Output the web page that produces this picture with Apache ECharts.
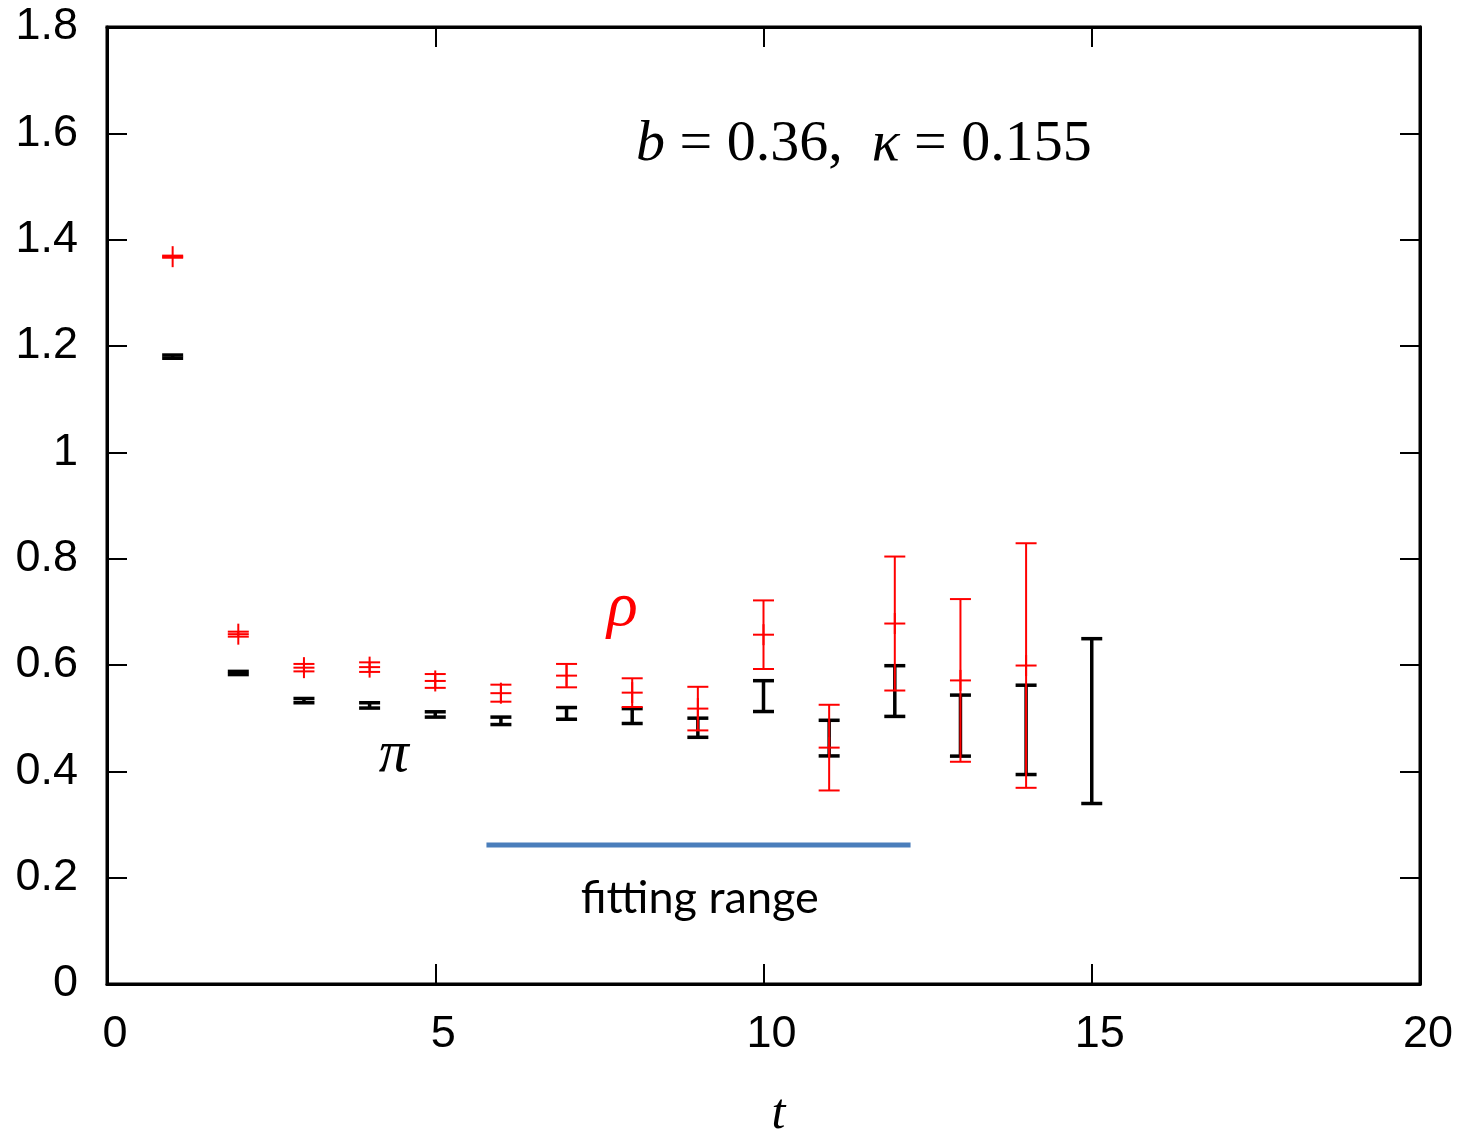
<!DOCTYPE html>
<html>
<head>
<meta charset="utf-8">
<script src="https://cdn.jsdelivr.net/npm/echarts@6/dist/echarts.min.js"></script>
<style>
html,body{margin:0;padding:0;background:#fff;}
#chart{width:1464px;height:1133px;}
</style>
</head>
<body>
<div id="chart"></div>
<script>
// ---- data ----
const tPi = [1, 2, 3, 4, 5, 6, 7, 8, 9, 10, 11, 12, 13, 14, 15];
const piMean = [1.180, 0.585, 0.533, 0.524, 0.507, 0.495, 0.509, 0.504, 0.482, 0.5415, 0.4625, 0.551, 0.486, 0.478, 0.4945];
const piErr = [0.003, 0.003, 0.004, 0.005, 0.005, 0.007, 0.011, 0.014, 0.018, 0.029, 0.0335, 0.0477, 0.0574, 0.084, 0.155];

const tRho = [1, 2, 3, 4, 5, 6, 7, 8, 9, 10, 11, 12, 13, 14];
const rhoMean = [1.368, 0.658, 0.595, 0.596, 0.570, 0.547, 0.580, 0.548, 0.518, 0.657, 0.4446, 0.678, 0.571, 0.599];
const rhoErr = [0.002, 0.0047, 0.007, 0.009, 0.013, 0.016, 0.022, 0.027, 0.041, 0.0645, 0.0806, 0.126, 0.153, 0.230];

const fitRangeT = [5.78, 12.24];
const fitRangeY = 0.2615;

const xTicks = [0, 5, 10, 15, 20];
const yTicks = [0, 0.2, 0.4, 0.6, 0.8, 1, 1.2, 1.4, 1.6, 1.8];

// annotation anchors (data coordinates)
const annEq = [11.53, 1.578];
const annRho = [7.85, 0.707];
const annPi = [4.37, 0.431];
const annFit = [9.03, 0.160];

// ---- chart ----
const chart = echarts.init(document.getElementById('chart'), null, {renderer: 'canvas'});

function errRender(color, lw, cross) {
  return function (params, api) {
    const t = api.value(0), m = api.value(1), e = api.value(2);
    const top = api.coord([t, m + e]);
    const bot = api.coord([t, m - e]);
    const mid = api.coord([t, m]);
    const hw = 10.5;
    const st = {stroke: color, lineWidth: lw, fill: null};
    const children = [
      {type: 'line', shape: {x1: top[0], y1: top[1], x2: bot[0], y2: bot[1]}, style: st},
      {type: 'line', shape: {x1: top[0] - hw, y1: top[1], x2: top[0] + hw, y2: top[1]}, style: st},
      {type: 'line', shape: {x1: bot[0] - hw, y1: bot[1], x2: bot[0] + hw, y2: bot[1]}, style: st}
    ];
    if (cross) {
      children.push({type: 'line', shape: {x1: mid[0] - hw, y1: mid[1], x2: mid[0] + hw, y2: mid[1]}, style: st});
      children.push({type: 'line', shape: {x1: mid[0], y1: mid[1] - hw, x2: mid[0], y2: mid[1] + hw}, style: st});
    }
    return {type: 'group', children: children};
  };
}

const piData = tPi.map((t, i) => [t, piMean[i], piErr[i]]);
const rhoData = tRho.map((t, i) => [t, rhoMean[i], rhoErr[i]]);

const axisFont = 'Liberation Sans, Arial, sans-serif';
const serif = 'Liberation Serif, Times New Roman, serif';

function annot(pos, text, labelStyle) {
  return {
    type: 'scatter', xAxisIndex: 0, yAxisIndex: 0,
    symbolSize: 1, itemStyle: {color: 'rgba(0,0,0,0)', opacity: 1},
    silent: true, z: 20,
    data: [pos],
    label: Object.assign({show: true, position: 'inside', formatter: text, textBorderWidth: 0, textShadowBlur: 0, opacity: 1}, labelStyle)
  };
}

const option = {
  animation: false,
  backgroundColor: '#fff',
  grid: {left: 107, right: 44, top: 27, bottom: 149, show: true, borderColor: '#000', borderWidth: 3,
    containLabel: false, outerBoundsMode: 'none'},
  xAxis: [
    {
      type: 'value', min: 0, max: 20, interval: 5, position: 'bottom',
      axisLine: {show: true, onZero: false, lineStyle: {color: '#000', width: 3}},
      axisTick: {show: true, inside: true, length: 20, lineStyle: {color: '#000', width: 2}},
      axisLabel: {show: true, margin: 28, color: '#000', fontFamily: axisFont, fontSize: 45, padding: [0, 0, 0, 16],
        formatter: v => xTicks.includes(v) ? String(v) : ''},
      splitLine: {show: false},
      name: 't', nameLocation: 'middle', nameGap: 106,
      nameTextStyle: {fontFamily: serif, fontStyle: 'italic', fontSize: 50, color: '#000', padding: [0, 0, 0, 30]}
    },
    {
      type: 'value', min: 0, max: 20, interval: 5, position: 'top',
      axisLine: {show: true, onZero: false, lineStyle: {color: '#000', width: 3}},
      axisTick: {show: true, inside: true, length: 20, lineStyle: {color: '#000', width: 2}},
      axisLabel: {show: false}, splitLine: {show: false}
    }
  ],
  yAxis: [
    {
      type: 'value', min: 0, max: 1.8, interval: 0.2, position: 'left',
      axisLine: {show: true, onZero: false, lineStyle: {color: '#000', width: 3}},
      axisTick: {show: true, inside: true, length: 20, lineStyle: {color: '#000', width: 2}},
      axisLabel: {show: true, margin: 29, color: '#000', fontFamily: axisFont, fontSize: 45,
        formatter: v => String(parseFloat(v.toFixed(1)))},
      splitLine: {show: false}
    },
    {
      type: 'value', min: 0, max: 1.8, interval: 0.2, position: 'right',
      axisLine: {show: true, onZero: false, lineStyle: {color: '#000', width: 3}},
      axisTick: {show: true, inside: true, length: 20, lineStyle: {color: '#000', width: 2}},
      axisLabel: {show: false}, splitLine: {show: false}
    }
  ],
  series: [
    {
      type: 'line', xAxisIndex: 0, yAxisIndex: 0, z: 3,
      data: fitRangeT.map(t => [t, fitRangeY]),
      showSymbol: false, symbol: 'none',
      lineStyle: {color: '#4a7ebb', width: 5}
    },
    {
      type: 'custom', xAxisIndex: 0, yAxisIndex: 0, z: 4,
      renderItem: errRender('#000', 3.5, false),
      encode: {x: 0, y: 1},
      data: piData
    },
    {
      type: 'custom', xAxisIndex: 0, yAxisIndex: 0, z: 5,
      renderItem: errRender('#ff0000', 2, true),
      encode: {x: 0, y: 1},
      data: rhoData
    },
    annot(annEq, '{i|b}{n| = 0.36,  }{i|κ}{n| = 0.155}', {
      rich: {
        i: {fontFamily: serif, fontStyle: 'italic', fontSize: 58, color: '#000', textBorderWidth: 0},
        n: {fontFamily: serif, fontSize: 58, color: '#000', textBorderWidth: 0}
      }
    }),
    annot(annRho, 'ρ', {fontFamily: serif, fontStyle: 'italic', fontSize: 64, color: '#ff0000'}),
    annot(annPi, 'π', {fontFamily: serif, fontStyle: 'italic', fontSize: 60, color: '#000'}),
    annot(annFit, 'fitting range', {fontFamily: 'Lato, sans-serif', fontSize: 45, color: '#000'})
  ]
};
chart.setOption(option);
</script>
</body>
</html>
